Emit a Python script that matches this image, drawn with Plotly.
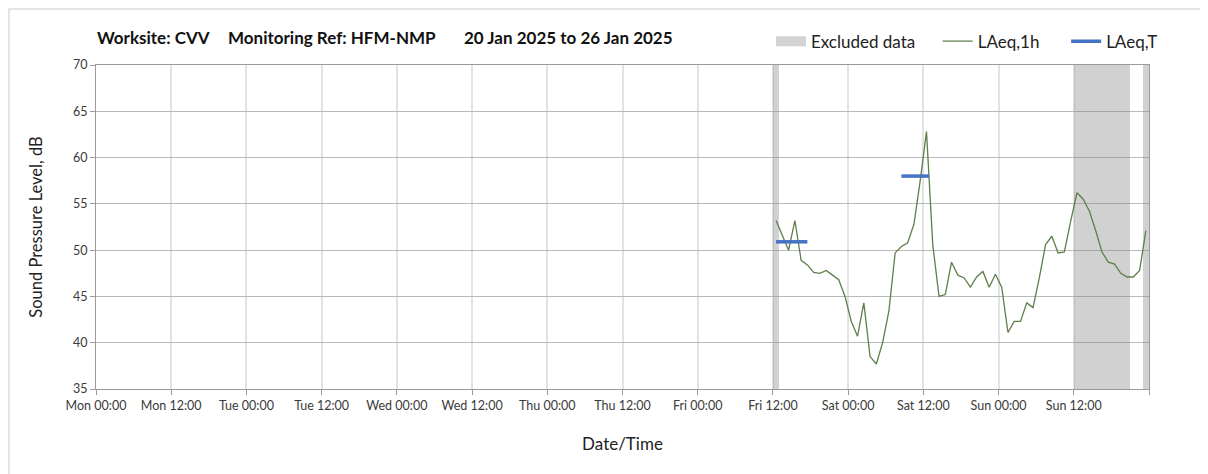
"""Noise monitoring chart - LAeq levels for one week"""
from __future__ import annotations

import pandas as pd
import plotly.graph_objects as go

FONT = "Lato"

# hourly LAeq,1h readings, Fri 12:30 -> Sun 23:30 (hour centres)
laeq_1h_start = "2025-01-24 12:30"
laeq_1h = [
    53.2, 51.6, 50.0, 53.2, 48.9, 48.4, 47.6, 47.5, 47.8, 47.3, 46.8, 45.0,
    42.3, 40.7, 44.3, 38.5, 37.7, 40.0, 43.4, 49.7, 50.4, 50.8, 52.8, 57.5,
    62.8, 50.6, 45.0, 45.2, 48.7, 47.3, 47.0, 46.0, 47.1, 47.7, 46.0, 47.4,
    46.0, 41.1, 42.3, 42.3, 44.3, 43.8, 47.0, 50.6, 51.5, 49.7, 49.8, 53.1,
    56.2, 55.5, 54.2, 52.1, 49.8, 48.7, 48.5, 47.5, 47.1, 47.1, 47.8, 52.1,
]

# LAeq,T over each assessment period
laeq_t_start = ["2025-01-24 12:30", "2025-01-25 08:30"]
laeq_t_end = ["2025-01-24 17:30", "2025-01-25 12:55"]
laeq_t = [50.9, 58.0]

# hours flagged as excluded (hour centres)
excluded_hours = [
    "2025-01-24 12:30",
    "2025-01-26 12:30", "2025-01-26 13:30", "2025-01-26 14:30",
    "2025-01-26 15:30", "2025-01-26 16:30", "2025-01-26 17:30",
    "2025-01-26 18:30", "2025-01-26 19:30", "2025-01-26 20:30",
    "2025-01-26 23:30",
]

tick_labels = [
    "Mon 00:00", "Mon 12:00", "Tue 00:00", "Tue 12:00", "Wed 00:00",
    "Wed 12:00", "Thu 00:00", "Thu 12:00", "Fri 00:00", "Fri 12:00",
    "Sat 00:00", "Sat 12:00", "Sun 00:00", "Sun 12:00", "",
]

title_parts = ["Worksite: CVV", "Monitoring Ref: HFM-NMP", "20 Jan 2025 to 26 Jan 2025"]

week_start = pd.Timestamp("2025-01-20 00:00")
week_end = pd.Timestamp("2025-01-27 00:00")
y_min, y_max = 35, 70

hours = pd.date_range(laeq_1h_start, periods=len(laeq_1h), freq="h")
tick_vals = pd.date_range(week_start, week_end, freq="12h")

t_x: list = []
t_y: list = []
for s, e, v in zip(laeq_t_start, laeq_t_end, laeq_t):
    t_x += [s, e, None]
    t_y += [v, v, None]

fig = go.Figure()
fig.add_trace(go.Bar(
    x=pd.to_datetime(excluded_hours), y=[y_max - y_min] * len(excluded_hours), base=y_min,
    width=3600000, marker=dict(color="rgba(140,140,140,0.4)", line=dict(width=0)),
    showlegend=False, hoverinfo="skip",
))
# legend swatch for the excluded bars
fig.add_trace(go.Scatter(
    x=[None], y=[None], mode="lines", name="Excluded data" + "&nbsp;" * 4,
    line=dict(color="#d3d3d3", width=10),
))
fig.add_trace(go.Scatter(
    x=hours, y=laeq_1h, mode="lines", name="LAeq,1h" + "&nbsp;" * 5,
    line=dict(color="#5d7f4a", width=1.3),
))
fig.add_trace(go.Scatter(
    x=t_x, y=t_y, mode="lines", name="LAeq,T",
    line=dict(color="#4472c4", width=3.5),
))

axis_line = "#9a9a9a"
fig.update_xaxes(
    range=[week_start, week_end], tickvals=tick_vals, ticktext=tick_labels,
    showgrid=True, gridcolor="#e2e2e2", gridwidth=1.5,
    showline=True, linecolor=axis_line, mirror=True,
    ticks="outside", ticklen=5, tickcolor=axis_line,
    tickfont=dict(family=FONT, size=12.5, color="#3a3a3a"),
    title=dict(text="Date/Time", font=dict(family=FONT, size=17, color="#222"), standoff=26),
)
fig.update_yaxes(
    range=[y_min, y_max], dtick=5,
    showgrid=True, gridcolor="#b9b9b9", gridwidth=1,
    showline=True, linecolor=axis_line, mirror=True,
    ticks="outside", ticklen=5, tickcolor=axis_line,
    tickfont=dict(family=FONT, size=12.5, color="#3a3a3a"),
    title=dict(text="Sound Pressure Level, dB", font=dict(family=FONT, size=16.5, color="#222"), standoff=26),
)

for text, x in zip(title_parts, [-0.001, 0.1235, 0.3476]):
    fig.add_annotation(
        text=f"<b>{text}</b>", xref="paper", yref="paper", x=x, y=1.0864,
        xanchor="left", yanchor="middle", showarrow=False,
        font=dict(family=FONT, size=17, color="#111"),
    )
# light frame around the chart area
fig.add_shape(
    type="rect", xref="paper", yref="paper", x0=-0.0826, x1=1.2, y0=-0.4, y1=1.173,
    line=dict(color="#dcdcdc", width=1.5), layer="below",
)

# page body adds an 8px offset, so the figure is 8px smaller
fig.update_layout(
    width=1200, height=466,
    margin=dict(l=88, r=59, t=57, b=85, autoexpand=False),
    plot_bgcolor="white", paper_bgcolor="white",
    barmode="overlay", bargap=0,
    font=dict(family=FONT, color="#222"),
    legend=dict(
        orientation="h", x=0.641, y=1.072, xanchor="left", yanchor="middle",
        font=dict(family=FONT, size=17, color="#222"), bgcolor="rgba(0,0,0,0)",
        itemwidth=30,
    ),
)

fig.write_html("out.html")
